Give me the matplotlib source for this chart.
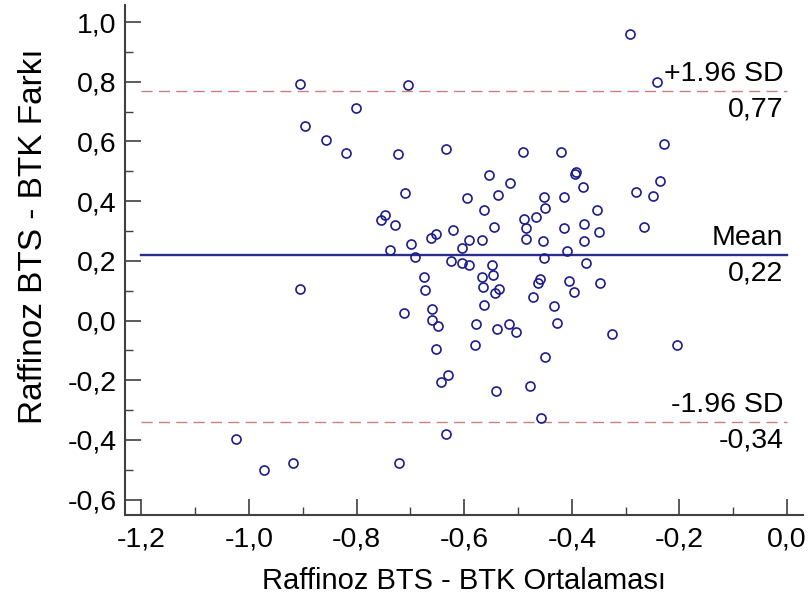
import matplotlib
matplotlib.use('Agg')
import matplotlib.pyplot as plt
from matplotlib.ticker import MultipleLocator, FuncFormatter

plt.rcParams['font.family'] = ['Liberation Sans', 'DejaVu Sans']

# Bland-Altman verileri (ortalama, fark)
ortalama = [-0.905, -0.705, -0.801, -0.896, -0.856, -0.819, -0.723, -0.634, -0.710, -0.594,
            -0.755, -0.747, -0.729, -0.698, -0.738, -0.691, -0.661, -0.653, -0.621, -0.592,
            -0.604, -0.624, -0.605, -0.591, -0.292, -0.242, -0.229, -0.491, -0.420, -0.554,
            -0.515, -0.394, -0.392, -0.380, -0.236, -0.281, -0.250, -0.538, -0.452, -0.415,
            -0.450, -0.563, -0.354, -0.467, -0.489, -0.485, -0.544, -0.414, -0.377, -0.349,
            -0.265, -0.485, -0.454, -0.377, -0.567, -0.409, -0.451, -0.548, -0.374, -0.567,
            -0.546, -0.566, -0.535, -0.542, -0.563, -0.579, -0.539, -0.517, -0.503, -0.580,
            -0.459, -0.462, -0.473, -0.405, -0.396, -0.434, -0.428, -0.348, -0.325, -0.204,
            -0.450, -0.540, -0.478, -0.458, -0.675, -0.672, -0.906, -0.711, -0.660, -0.659,
            -0.649, -0.652, -0.631, -0.643, -0.634, -1.024, -0.973, -0.918, -0.722]
fark = [0.792, 0.788, 0.713, 0.653, 0.604, 0.561, 0.559, 0.576, 0.426, 0.410,
        0.336, 0.352, 0.319, 0.255, 0.235, 0.213, 0.275, 0.289, 0.303, 0.270,
        0.242, 0.199, 0.192, 0.186, 0.959, 0.799, 0.591, 0.563, 0.563, 0.488,
        0.462, 0.492, 0.497, 0.447, 0.468, 0.430, 0.417, 0.419, 0.415, 0.414,
        0.378, 0.369, 0.371, 0.347, 0.341, 0.311, 0.312, 0.310, 0.324, 0.296,
        0.312, 0.274, 0.267, 0.266, 0.269, 0.234, 0.208, 0.186, 0.194, 0.147,
        0.152, 0.111, 0.105, 0.092, 0.051, -0.013, -0.028, -0.013, -0.040, -0.081,
        0.138, 0.125, 0.079, 0.133, 0.096, 0.048, -0.008, 0.126, -0.044, -0.083,
        -0.121, -0.236, -0.218, -0.326, 0.145, 0.101, 0.106, 0.024, 0.040, 0.002,
        -0.019, -0.094, -0.183, -0.206, -0.379, -0.398, -0.500, -0.476, -0.476]

ort_fark = 0.22
ust_sinir = 0.77
alt_sinir = -0.34

fig = plt.figure(figsize=(8.11, 6.0), dpi=100)
ax = fig.add_axes([125/811, 85/600, 678/811, 510/600])

ax.plot(ortalama, fark, 'o', mfc='none', mec='#1c1c8a', ms=6.5, mew=1.2, zorder=3)

ax.plot([-1.2, 0.0], [ort_fark, ort_fark], color='#2b2e8c', lw=1.7, zorder=2)
ax.plot([-1.2, 0.0], [ust_sinir, ust_sinir], color='#c98080', lw=1.0, ls=(0, (8, 4.5)), zorder=2)
ax.plot([-1.2, 0.0], [alt_sinir, alt_sinir], color='#c98080', lw=1.0, ls=(0, (8, 4.5)), zorder=2)

# sag taraftaki etiketler
etiketler = [(ust_sinir, '+1.96 SD', '0,77'), (ort_fark, 'Mean', '0,22'), (alt_sinir, '-1.96 SD', '-0,34')]
for yv, ust, alt in etiketler:
    ax.annotate(ust, (-0.007, yv), xytext=(0, 7), textcoords='offset points',
                ha='right', va='baseline', fontsize=20.5)
    ax.annotate(alt, (-0.007, yv), xytext=(0, -4), textcoords='offset points',
                ha='right', va='top', fontsize=20.5)

ax.set_xlim(-1.2305, 0.0297)
ax.set_ylim(-0.6516, 1.057)

for s in ['top', 'right']:
    ax.spines[s].set_visible(False)
for s in ['left', 'bottom']:
    ax.spines[s].set_color('#404040')
    ax.spines[s].set_linewidth(1.5)

virgul = FuncFormatter(lambda v, p: ('%.1f' % (0.0 if abs(v) < 1e-9 else v)).replace('.', ','))
ax.xaxis.set_major_locator(MultipleLocator(0.2))
ax.xaxis.set_minor_locator(MultipleLocator(0.1))
ax.yaxis.set_major_locator(MultipleLocator(0.2))
ax.yaxis.set_minor_locator(MultipleLocator(0.1))
ax.xaxis.set_major_formatter(virgul)
ax.yaxis.set_major_formatter(virgul)
ax.tick_params(which='major', direction='in', length=11.5, width=1.2, color='#404040', labelsize=20.5)
ax.tick_params(axis='y', which='major', pad=6)
ax.tick_params(axis='x', which='major', pad=8)
ax.tick_params(which='minor', direction='in', length=5.5, width=1.0, color='#404040')

ax.set_xlabel('Raffinoz BTS - BTK Ortalaması', fontsize=21, labelpad=11)
ax.set_ylabel('Raffinoz BTS - BTK Farkı', fontsize=24)
ax.yaxis.set_label_coords(-0.112, 0.547)

fig.savefig('out.png', dpi=100)
